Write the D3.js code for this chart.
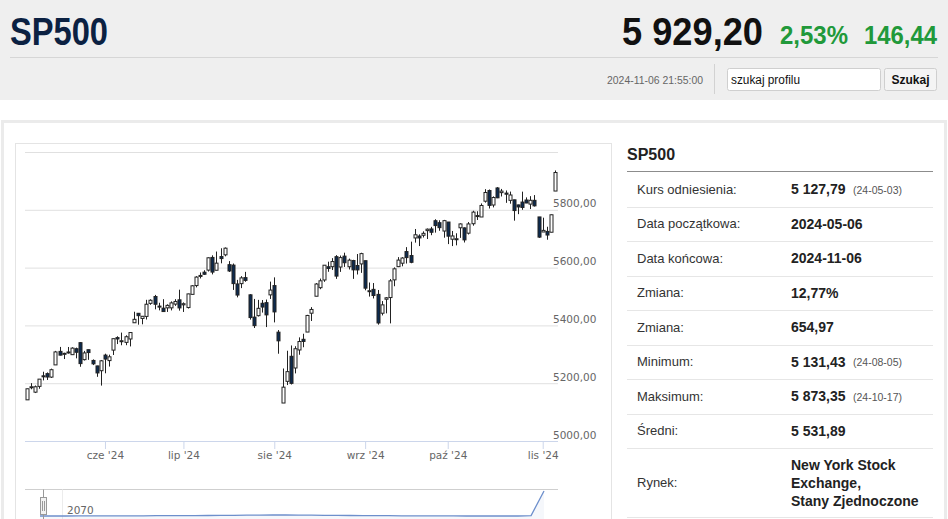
<!DOCTYPE html>
<html>
<head>
<meta charset="utf-8">
<script src="https://cdn.jsdelivr.net/npm/d3@7"></script>
<style>
  body { margin: 0; background: #fff; }
  svg { display: block; }
</style>
</head>
<body>
<div id="page"></div>
<script>
// notowanie w nagłówku
const quoteName = "SP500";
const quotePrice = "5 929,20";
const quotePct = "2,53%";
const quoteAbs = "146,44";
const quoteTime = "2024-11-06 21:55:00";

// sesje (dni notowań)
const dates = [
  "2024-05-06","2024-05-07","2024-05-08","2024-05-09","2024-05-10","2024-05-13","2024-05-14","2024-05-15","2024-05-16","2024-05-17",
  "2024-05-20","2024-05-21","2024-05-22","2024-05-23","2024-05-24","2024-05-28","2024-05-29","2024-05-30","2024-05-31",
  "2024-06-03","2024-06-04","2024-06-05","2024-06-06","2024-06-07","2024-06-10","2024-06-11","2024-06-12","2024-06-13","2024-06-14",
  "2024-06-17","2024-06-18","2024-06-20","2024-06-21","2024-06-24","2024-06-25","2024-06-26","2024-06-27","2024-06-28",
  "2024-07-01","2024-07-02","2024-07-03","2024-07-05","2024-07-08","2024-07-09","2024-07-10","2024-07-11","2024-07-12",
  "2024-07-15","2024-07-16","2024-07-17","2024-07-18","2024-07-19","2024-07-22","2024-07-23","2024-07-24","2024-07-25","2024-07-26",
  "2024-07-29","2024-07-30","2024-07-31",
  "2024-08-01","2024-08-02","2024-08-05","2024-08-06","2024-08-07","2024-08-08","2024-08-09","2024-08-12","2024-08-13","2024-08-14",
  "2024-08-15","2024-08-16","2024-08-19","2024-08-20","2024-08-21","2024-08-22","2024-08-23","2024-08-26","2024-08-27","2024-08-28",
  "2024-08-29","2024-08-30",
  "2024-09-03","2024-09-04","2024-09-05","2024-09-06","2024-09-09","2024-09-10","2024-09-11","2024-09-12","2024-09-13",
  "2024-09-16","2024-09-17","2024-09-18","2024-09-19","2024-09-20","2024-09-23","2024-09-24","2024-09-25","2024-09-26","2024-09-27",
  "2024-09-30",
  "2024-10-01","2024-10-02","2024-10-03","2024-10-04","2024-10-07","2024-10-08","2024-10-09","2024-10-10","2024-10-11",
  "2024-10-14","2024-10-15","2024-10-16","2024-10-17","2024-10-18","2024-10-21","2024-10-22","2024-10-23","2024-10-24","2024-10-25",
  "2024-10-28","2024-10-29","2024-10-30","2024-10-31",
  "2024-11-01","2024-11-04","2024-11-05","2024-11-06"
];

const opens = [
  5142.4,5187.2,5169.0,5189.0,5225.5,5233.1,5221.1,5263.3,5310.1,5303.1,5305.4,5298.7,5319.3,5340.3,5281.5,5315.9,5278.7,5259.8,5243.2,
  5297.2,5278.2,5314.5,5357.8,5343.8,5341.2,5353.0,5409.1,5441.9,5424.1,5431.1,5476.2,5500.0,5466.8,5459.6,5460.7,5460.7,5473.6,5488.5,
  5471.1,5461.8,5507.4,5537.9,5572.8,5584.2,5591.3,5635.2,5590.8,5638.2,5644.1,5610.1,5608.6,5543.4,5544.5,5565.3,5505.8,5428.7,5433.7,5476.6,5478.7,5505.6,
  5537.8,5376.6,5131.4,5206.4,5293.1,5252.6,5315.0,5351.9,5377.0,5442.2,5500.9,5530.5,5557.2,5602.9,5603.1,5637.8,5602.0,5639.7,5602.9,5624.5,5607.3,5612.7,
  5623.9,5520.1,5524.7,5507.3,5442.1,5490.5,5496.4,5557.5,5603.3,5615.2,5655.5,5641.7,5702.6,5709.1,5711.9,5727.9,5733.7,5762.2,5755.4,5726.5,
  5757.7,5698.2,5698.2,5737.8,5737.4,5719.1,5751.8,5778.4,5775.1,5829.8,5866.7,5816.6,5875.6,5859.4,5857.8,5832.7,5834.5,5816.9,5826.8,5833.9,5819.7,5832.7,5775.3,
  5723.2,5725.2,5722.4,5864.9
];

const highs = [
  5181.0,5200.2,5192.0,5214.5,5239.7,5237.3,5250.4,5311.8,5325.5,5305.5,5325.3,5324.3,5323.2,5341.9,5311.7,5315.9,5282.3,5260.2,5280.3,
  5302.1,5298.8,5354.2,5362.4,5375.1,5365.8,5376.0,5447.3,5441.9,5432.4,5488.5,5490.4,5505.5,5478.3,5490.7,5472.9,5483.1,5490.8,5523.6,
  5479.6,5509.7,5539.3,5570.3,5583.1,5590.8,5635.4,5642.5,5655.6,5666.9,5669.7,5622.5,5614.1,5557.5,5570.4,5585.3,5508.0,5491.6,5488.3,5487.7,5489.5,5551.5,
  5566.2,5383.9,5250.9,5312.3,5330.6,5328.0,5358.6,5371.2,5436.5,5463.2,5546.5,5562.0,5608.3,5620.5,5632.7,5643.2,5641.8,5651.6,5631.2,5627.0,5647.0,5651.4,
  5623.9,5548.4,5546.6,5522.5,5484.2,5497.9,5560.4,5600.7,5636.3,5636.1,5670.8,5689.8,5733.6,5715.1,5725.4,5735.3,5741.0,5767.4,5763.8,5765.1,
  5757.7,5726.8,5718.8,5753.2,5739.1,5757.6,5796.8,5795.0,5822.1,5871.4,5870.4,5846.5,5878.5,5872.2,5866.9,5863.0,5834.9,5817.8,5862.8,5842.9,5847.2,5850.9,5775.3,
  5772.7,5741.4,5783.4,5936.1
];

const lows = [
  5142.4,5179.0,5165.9,5180.9,5209.7,5211.2,5218.0,5263.3,5296.2,5283.6,5302.4,5297.9,5286.0,5256.9,5278.4,5280.9,5262.7,5222.1,5191.7,
  5234.3,5257.6,5297.6,5335.4,5331.3,5331.5,5327.3,5409.1,5402.5,5403.8,5420.4,5471.3,5455.6,5452.0,5447.6,5446.6,5451.9,5467.5,5451.1,
  5446.5,5458.4,5507.4,5531.6,5562.5,5574.6,5586.4,5576.5,5590.4,5614.8,5639.0,5584.8,5522.8,5497.0,5529.0,5550.9,5420.0,5391.0,5430.7,5444.4,5394.2,5491.5,
  5410.4,5302.0,5131.4,5193.6,5195.5,5233.9,5298.4,5324.4,5377.0,5415.3,5500.9,5525.2,5550.7,5585.5,5591.6,5561.0,5585.2,5602.3,5593.5,5561.0,5576.2,5581.8,
  5521.4,5499.7,5493.2,5402.6,5434.5,5441.7,5407.0,5535.5,5601.7,5604.5,5614.1,5615.1,5686.4,5674.5,5704.2,5699.0,5712.1,5721.0,5727.3,5703.5,
  5681.3,5674.5,5677.0,5702.8,5686.9,5714.6,5745.0,5764.8,5775.1,5824.8,5804.5,5808.3,5840.3,5846.1,5824.1,5821.2,5762.4,5784.9,5800.0,5823.1,5802.5,5811.3,5702.9,
  5723.2,5696.5,5722.1,5864.9
];

const closes = [
  5180.7,5187.7,5187.7,5214.1,5222.7,5221.4,5246.7,5308.2,5297.1,5303.3,5308.1,5321.4,5307.0,5267.8,5304.7,5306.0,5267.0,5235.5,5277.5,
  5283.4,5291.3,5354.0,5353.0,5347.0,5360.8,5375.3,5421.0,5433.7,5431.6,5473.2,5487.0,5473.2,5464.6,5447.9,5469.3,5477.9,5482.9,5460.5,
  5475.1,5509.0,5537.0,5567.2,5572.9,5577.0,5633.9,5584.5,5615.4,5631.2,5667.2,5588.3,5544.6,5505.0,5564.4,5555.7,5427.1,5399.2,5459.1,5463.5,5436.4,5522.3,
  5446.7,5346.6,5186.3,5240.0,5199.5,5319.3,5344.2,5344.4,5434.4,5455.2,5543.2,5554.3,5608.3,5597.1,5620.9,5570.6,5634.6,5616.8,5625.8,5592.2,5592.0,5648.4,
  5528.9,5520.1,5503.4,5408.4,5471.1,5495.5,5554.1,5595.8,5626.0,5633.1,5634.6,5618.3,5713.6,5702.6,5718.6,5732.9,5722.3,5745.4,5738.2,5762.5,
  5708.8,5709.5,5699.9,5751.1,5695.9,5751.1,5792.0,5780.1,5815.0,5859.9,5815.3,5842.5,5841.5,5864.7,5854.0,5851.2,5797.4,5809.9,5808.1,5823.5,5832.9,5813.7,5705.5,
  5728.8,5712.7,5782.8,5929.0
];

// osie
const yTicks = [5000, 5200, 5400, 5600, 5800, 6000];
const monthTickDates = ["2024-06-03","2024-07-01","2024-08-01","2024-09-03","2024-10-01","2024-11-01"];
const monthTickLabels = ["cze '24","lip '24","sie '24","wrz '24","paź '24","lis '24"];

// nawigator (cała historia, spłaszczona)
const navValues = [1.0,1.0,1.0,1.1,1.1,1.1,1.2,1.2,1.2,1.3,1.3,1.4,1.4,1.5,1.6,1.7,1.8,1.9,2.0,2.0,
                   1.9,1.8,1.7,1.6,1.5,1.4,1.3,1.3,1.2,1.2,1.1,1.1,1.1,1.0,1.0,1.0,1.0,1.0,1.4,26];
const navLabel = "2070";

// tabela z prawej
const tableTitle = "SP500";
const tableLabels = ["Kurs odniesienia:","Data początkowa:","Data końcowa:","Zmiana:","Zmiana:","Minimum:","Maksimum:","Średni:","Rynek:"];
const tableValues = [["5 127,79"],["2024-05-06"],["2024-11-06"],["12,77%"],["654,97"],["5 131,43"],["5 873,35"],["5 531,89"],
                     ["New York Stock","Exchange,","Stany Zjednoczone"]];
const tableNotes = ["(24-05-03)","","","","","(24-08-05)","(24-10-17)","",""];

const W = 948, H = 519;
const narrow = "'Liberation Sans Narrow','Liberation Sans',Arial,sans-serif";
const arial = "'Liberation Sans',Arial,sans-serif";
const chartFont = "'DejaVu Sans',sans-serif";

document.addEventListener("DOMContentLoaded", setup);

function setup() {
    const svg = d3.select("#page").append("svg")
        .attr("width", W)
        .attr("height", H);

    drawHeader(svg);
    drawFrames(svg);
    drawChart(svg);
    drawNavigator(svg);
    drawTable(svg);
}

function drawHeader(svg) {
    svg.append("rect").attr("x", 0).attr("y", 0).attr("width", W).attr("height", 100).attr("fill", "#efefef");

    svg.append("text")
        .attr("x", 10).attr("y", 45)
        .attr("textLength", 98).attr("lengthAdjust", "spacingAndGlyphs")
        .style("font", `bold 38px ${narrow}`)
        .attr("fill", "#0b2142")
        .text(quoteName);

    svg.append("text")
        .attr("x", 622).attr("y", 45)
        .attr("textLength", 141).attr("lengthAdjust", "spacingAndGlyphs")
        .style("font", `bold 38px ${narrow}`)
        .attr("fill", "#111")
        .text(quotePrice);

    svg.append("text")
        .attr("x", 780).attr("y", 44)
        .attr("textLength", 68).attr("lengthAdjust", "spacingAndGlyphs")
        .style("font", `bold 26px ${narrow}`)
        .attr("fill", "#21993a")
        .text(quotePct);

    svg.append("text")
        .attr("x", 864).attr("y", 44)
        .attr("textLength", 73).attr("lengthAdjust", "spacingAndGlyphs")
        .style("font", `bold 26px ${narrow}`)
        .attr("fill", "#21993a")
        .text(quoteAbs);

    // linia pod tytułem
    svg.append("line").attr("x1", 10).attr("x2", 938).attr("y1", 57.5).attr("y2", 57.5)
        .attr("stroke", "#d6d6d6");

    svg.append("text")
        .attr("x", 607).attr("y", 84)
        .attr("textLength", 96).attr("lengthAdjust", "spacingAndGlyphs")
        .style("font", `11px ${narrow}`)
        .attr("fill", "#666")
        .text(quoteTime);

    svg.append("line").attr("x1", 714.5).attr("x2", 714.5).attr("y1", 64).attr("y2", 94)
        .attr("stroke", "#d2d2d2");

    // pole wyszukiwania
    svg.append("rect").attr("x", 727.5).attr("y", 68.5).attr("width", 153).attr("height", 22)
        .attr("rx", 2).attr("fill", "#fff").attr("stroke", "#cfcfcf");
    svg.append("text").attr("x", 731).attr("y", 83.5)
        .attr("textLength", 69).attr("lengthAdjust", "spacingAndGlyphs")
        .style("font", `12px ${narrow}`).attr("fill", "#111")
        .text("szukaj profilu");

    svg.append("rect").attr("x", 884.5).attr("y", 68.5).attr("width", 52).attr("height", 22)
        .attr("rx", 2).attr("fill", "#f4f4f4").attr("stroke", "#cfcfcf");
    svg.append("text").attr("x", 910.5).attr("y", 83.5)
        .attr("text-anchor", "middle")
        .style("font", `bold 12px ${narrow}`).attr("fill", "#111")
        .text("Szukaj");
}

function drawFrames(svg) {
    // główny kontener
    svg.append("rect").attr("x", 2.5).attr("y", 121.5).attr("width", 943).attr("height", 420)
        .attr("fill", "#fff").attr("stroke", "#ebebeb").attr("stroke-width", 3);
    // ramka wykresu
    svg.append("rect").attr("x", 15.5).attr("y", 143.5).attr("width", 596).attr("height", 400)
        .attr("fill", "#fff").attr("stroke", "#e4e4e4");
}

function drawChart(svg) {
    const plot = {left: 25, right: 558, top: 145, bottom: 441};

    const x = d3.scalePoint().domain(dates).range([26.5, 555.1]);
    const y = d3.scaleLinear().domain([5000, 6000]).range([plot.bottom, 152]);
    const fmt = d => d3.format(".2f")(d).replace(".", ",");

    // siatka pozioma
    const grid = svg.append("g")
        .attr("transform", `translate(${plot.left},0)`)
        .call(d3.axisLeft(y).tickValues(yTicks.slice(1)).tickSize(-(plot.right - plot.left)).tickFormat(""));
    grid.select(".domain").remove();
    grid.selectAll(".tick line").attr("stroke", "#e0e0e0");

    // etykiety osi Y
    const yAxis = svg.append("g")
        .attr("transform", `translate(553,0)`)
        .call(d3.axisRight(y).tickValues(yTicks.slice(0, -1)).tickSize(0).tickPadding(0).tickFormat(fmt));
    yAxis.select(".domain").remove();
    yAxis.selectAll("text")
        .attr("dy", -3)
        .attr("fill", "#666")
        .style("font", `10.5px ${chartFont}`);

    // oś X
    svg.append("line")
        .attr("x1", plot.left).attr("x2", plot.right)
        .attr("y1", plot.bottom + 0.5).attr("y2", plot.bottom + 0.5)
        .attr("stroke", "#ccd6eb");

    const xAxis = svg.append("g")
        .attr("transform", `translate(0,${plot.bottom})`)
        .call(d3.axisBottom(x).tickValues(monthTickDates).tickSize(8).tickPadding(3)
            .tickFormat((d, i) => monthTickLabels[i]));
    xAxis.select(".domain").remove();
    xAxis.selectAll(".tick line").attr("stroke", "#ccd6eb");
    xAxis.selectAll("text").attr("fill", "#666").style("font", `10.5px ${chartFont}`);

    // świece
    svg.append("clipPath").attr("id", "plotClip")
        .append("rect")
        .attr("x", plot.left).attr("y", plot.top)
        .attr("width", plot.right - plot.left).attr("height", plot.bottom - plot.top);

    const candles = svg.append("g")
        .attr("clip-path", "url(#plotClip)")
        .selectAll("g")
        .data(d3.range(dates.length))
        .join("g");

    candles.append("line")
        .attr("x1", i => Math.round(x(dates[i])) + 0.5)
        .attr("x2", i => Math.round(x(dates[i])) + 0.5)
        .attr("y1", i => y(highs[i]))
        .attr("y2", i => y(lows[i]))
        .attr("stroke", "#222");

    candles.append("rect")
        .attr("x", i => Math.round(x(dates[i])) - 1)
        .attr("y", i => y(Math.max(opens[i], closes[i])))
        .attr("width", 3)
        .attr("height", i => Math.max(1, Math.abs(y(opens[i]) - y(closes[i]))))
        .attr("fill", i => closes[i] < opens[i] ? "#0c2a4f" : "#fff")
        .attr("stroke", "#222");
}

function drawNavigator(svg) {
    const top = 489.5;
    const nx = d3.scaleLinear().domain([0, navValues.length - 1]).range([40, 544]);
    const ny = d3.scaleLinear().domain([0, d3.max(navValues)]).range([517, 491]);

    svg.append("line").attr("x1", 25).attr("x2", 558).attr("y1", top).attr("y2", top)
        .attr("stroke", "#cfcfcf");
    svg.append("line").attr("x1", 62.5).attr("x2", 62.5).attr("y1", top).attr("y2", H)
        .attr("stroke", "#ececec");

    svg.append("path")
        .datum(navValues)
        .attr("d", d3.area().x((d, i) => nx(i)).y0(H).y1(d => ny(d)))
        .attr("fill", "rgba(51,92,173,0.05)");
    svg.append("path")
        .datum(navValues)
        .attr("d", d3.line().x((d, i) => nx(i)).y(d => ny(d)))
        .attr("fill", "none")
        .attr("stroke", "#6d8fcc")
        .attr("stroke-width", 1.3);

    svg.append("text").attr("x", 67).attr("y", 514)
        .style("font", `10.5px ${chartFont}`).attr("fill", "#666")
        .text(navLabel);

    // uchwyt
    svg.append("line").attr("x1", 43.5).attr("x2", 43.5).attr("y1", top).attr("y2", H)
        .attr("stroke", "#999");
    svg.append("rect").attr("x", 40.5).attr("y", 497.5).attr("width", 6).attr("height", 17)
        .attr("fill", "#f2f2f2").attr("stroke", "#999");
    [42.5, 44.5].forEach(px => {
        svg.append("line").attr("x1", px).attr("x2", px).attr("y1", 501).attr("y2", 511)
            .attr("stroke", "#999");
    });
}

function drawTable(svg) {
    const left = 627, right = 933;
    const rowH = 34.5;
    const rowTop = i => 172 + rowH * i;

    svg.append("text").attr("x", left).attr("y", 160)
        .style("font", `bold 16px ${arial}`).attr("fill", "#222")
        .text(tableTitle);
    svg.append("line").attr("x1", left).attr("x2", right).attr("y1", 171.5).attr("y2", 171.5)
        .attr("stroke", "#8c8c8c");

    tableLabels.forEach((label, i) => {
        const lines = tableValues[i];
        const h = lines.length > 1 ? rowH * 2 : rowH;
        const mid = rowTop(i) + h / 2;

        svg.append("text").attr("x", 637).attr("y", mid + 4.5)
            .style("font", `13px ${arial}`).attr("fill", "#333")
            .text(label);

        lines.forEach((t, k) => {
            svg.append("text")
                .attr("x", 791)
                .attr("y", mid + 5 + (k - (lines.length - 1) / 2) * 18)
                .style("font", `bold 14px ${arial}`).attr("fill", "#222")
                .text(t);
        });

        if (tableNotes[i]) {
            svg.append("text").attr("x", 853).attr("y", mid + 4.5)
                .style("font", `10.5px ${arial}`).attr("fill", "#555")
                .text(tableNotes[i]);
        }

        const sep = Math.round(rowTop(i) + h) + 0.5;
        svg.append("line").attr("x1", left).attr("x2", right).attr("y1", sep).attr("y2", sep)
            .attr("stroke", "#e6e6e6");
    });
}
</script>
</body>
</html>
